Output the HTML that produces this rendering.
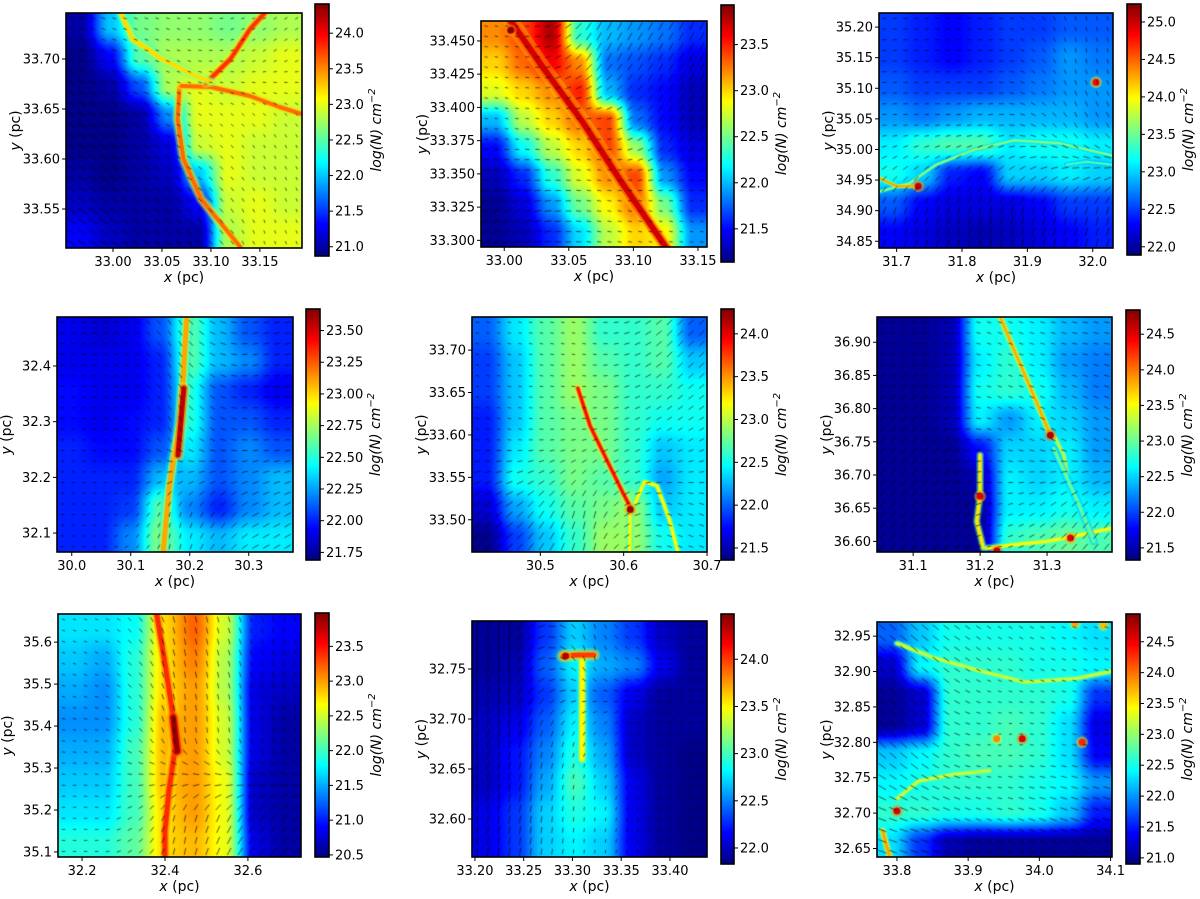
<!DOCTYPE html>
<html><head><meta charset="utf-8">
<style>
html,body{margin:0;padding:0;background:#fff;}
#wrap{position:relative;width:1200px;height:899px;overflow:hidden;font-family:"DejaVu Sans","Liberation Sans",sans-serif;}
canvas{position:absolute;}
svg{position:absolute;left:0;top:0;}
</style></head>
<body>
<div id="wrap">
<svg id="ov" width="1200" height="899"></svg>
</div>
<script>
// ---------- Panel 1 ----------
const p1_grid=[[21.0,22.0,22.6,22.7,22.7,22.6,22.7,22.8],[20.9,21.3,22.5,22.8,22.8,22.8,22.9,23.0],[20.9,21.0,21.6,22.8,23.0,22.9,23.0,23.0],[20.9,20.9,21.0,21.8,23.0,23.0,23.0,22.9],[20.9,20.9,21.0,21.2,22.9,23.0,22.9,22.9],[21.0,20.9,21.0,21.1,22.0,23.0,22.9,22.9],[21.1,21.0,21.0,21.0,21.3,22.9,23.0,22.9],[21.3,21.1,21.0,21.0,21.0,22.8,23.0,23.0]];
const p1_fil_x=[[33.068,33.066,33.072,33.09,33.115,33.13],[33.07,33.10,33.14,33.17,33.193],[33.095,33.12,33.14,33.155],[33.008,33.02,33.05,33.08,33.10]];
const p1_fil_y=[[33.672,33.64,33.60,33.56,33.53,33.512],[33.673,33.672,33.663,33.652,33.645],[33.676,33.70,33.73,33.746],[33.746,33.72,33.70,33.685,33.677]];
const p1_fil_v=[23.6,23.6,23.8,23.2];
const p1_dot_x=[],p1_dot_y=[],p1_dot_v=[];
const p1_xticks=[33.00,33.05,33.10,33.15], p1_yticks=[33.55,33.60,33.65,33.70], p1_cticks=[21.0,21.5,22.0,22.5,23.0,23.5,24.0];
const p1_ang=[[-20,-15,30],[-25,-30,-60],[-30,-30,-70]], p1_mag=[[0.4,0.3,0.3],[1,0.3,0.3],[1,0.7,0.3]];
// ---------- Panel 2 ----------
const p2_grid=[[23.2,23.4,23.8,22.3,22.0,21.9,21.8,21.6],[23.0,23.3,23.6,23.2,21.8,21.7,21.6,21.4],[22.8,23.0,23.2,23.5,22.0,21.6,21.5,21.3],[22.0,22.7,23.0,23.3,23.4,21.8,21.5,21.3],[21.5,22.2,22.7,23.0,23.4,22.6,21.6,21.4],[21.3,21.6,22.3,22.8,23.2,23.4,21.9,21.5],[21.2,21.4,21.9,22.5,22.9,23.3,22.5,21.6],[21.2,21.3,21.6,22.1,22.7,23.0,22.9,21.9]];
const p2_fil_x=[[33.005,33.03,33.06,33.09,33.125]];
const p2_fil_y=[[33.465,33.43,33.39,33.345,33.295]];
const p2_fil_v=[23.7];
const p2_dot_x=[33.005],p2_dot_y=[33.458],p2_dot_v=[23.9];
const p2_xticks=[33.00,33.05,33.10,33.15], p2_yticks=[33.300,33.325,33.350,33.375,33.400,33.425,33.450], p2_cticks=[21.5,22.0,22.5,23.0,23.5];
const p2_ang=[[-10,60,60],[-10,-10,60],[20,-10,-10]], p2_mag=[[0.3,1,0.9],[0.3,0.3,0.8],[0.9,0.4,0.3]];
// ---------- Panel 3 ----------
const p3_grid=[[22.5,22.4,22.3,22.4,22.5,22.5,22.6,22.6],[22.5,22.4,22.3,22.4,22.5,22.6,22.8,22.7],[22.6,22.5,22.5,22.5,22.6,22.7,22.8,22.8],[22.8,22.7,22.8,22.9,22.9,22.9,22.9,22.8],[23.1,23.3,23.4,23.4,23.1,23.2,23.2,23.1],[23.2,23.0,22.4,22.3,23.0,23.0,23.1,23.0],[22.6,22.3,22.2,22.2,22.2,22.3,22.5,22.5],[22.3,22.2,22.1,22.05,22.1,22.2,22.3,22.4]];
const p3_fil_x=[[31.67,31.72,31.76,31.82,31.88,31.95,32.03],[31.67,31.70,31.735],[31.96,31.99,32.03]];
const p3_fil_y=[[34.93,34.945,34.975,35.0,35.015,35.01,34.99],[34.955,34.94,34.94],[34.975,34.98,34.975]];
const p3_fil_v=[23.6,24.3,23.4];
const p3_dot_x=[32.005,31.733],p3_dot_y=[35.11,34.94],p3_dot_v=[24.8,25.0];
const p3_xticks=[31.7,31.8,31.9,32.0], p3_yticks=[34.85,34.90,34.95,35.00,35.05,35.10,35.15,35.20], p3_cticks=[22.0,22.5,23.0,23.5,24.0,24.5,25.0];
const p3_ang=[[0,0,-80],[5,10,-60],[70,75,75]], p3_mag=[[0.4,0.4,0.4],[0.4,0.5,0.6],[0.8,0.9,0.9]];
// ---------- Panel 4 ----------
const p4_grid=[[21.9,21.85,21.9,22.1,22.6,22.3,22.1,22.0],[21.9,21.9,21.9,22.0,22.6,22.3,22.2,22.0],[21.95,21.9,21.9,22.0,22.5,22.1,22.0,21.9],[21.95,21.9,21.95,22.0,22.5,22.1,22.1,22.0],[22.0,21.95,21.95,22.1,22.4,22.1,22.2,22.1],[22.0,22.0,22.0,22.3,22.3,22.1,22.2,22.3],[22.0,22.0,22.05,22.6,22.2,22.0,22.2,22.3],[22.0,22.0,22.2,22.7,22.4,22.3,22.4,22.4]];
const p4_fil_x=[[30.195,30.19,30.185,30.175,30.165,30.155],[30.19,30.185,30.18]];
const p4_fil_y=[[32.488,32.40,32.30,32.25,32.18,32.066],[32.36,32.30,32.24]];
const p4_fil_v=[23.1,23.55];
const p4_dot_x=[],p4_dot_y=[],p4_dot_v=[];
const p4_xticks=[30.0,30.1,30.2,30.3], p4_yticks=[32.1,32.2,32.3,32.4], p4_cticks=[21.75,22.00,22.25,22.50,22.75,23.00,23.25,23.50];
const p4_ang=[[0,-60,10],[0,-60,0],[0,80,30]], p4_mag=[[0.4,0.6,0.6],[0.3,0.6,0.5],[0.3,0.5,0.8]];
// ---------- Panel 5 ----------
const p5_grid=[[22.0,22.4,22.7,22.9,22.6,22.6,22.7,22.0],[21.9,22.3,22.7,22.9,22.7,22.6,22.7,22.3],[21.9,22.3,22.7,22.9,22.8,22.6,22.6,22.5],[21.8,22.3,22.7,22.8,22.8,22.6,22.5,22.5],[21.8,22.4,22.7,22.8,22.8,22.6,22.3,22.4],[21.8,22.5,22.6,22.8,22.7,22.6,22.2,22.4],[21.6,22.2,22.5,22.7,22.8,22.9,22.3,22.4],[21.4,21.9,22.3,22.6,22.9,22.9,22.5,22.4]];
const p5_fil_x=[[30.545,30.56,30.58,30.60,30.608],[30.608,30.607],[30.614,30.625,30.64,30.655,30.665]];
const p5_fil_y=[[33.655,33.61,33.57,33.53,33.515],[33.51,33.462],[33.52,33.545,33.54,33.50,33.462]];
const p5_fil_v=[23.9,23.2,23.2];
const p5_dot_x=[30.608],p5_dot_y=[33.512],p5_dot_v=[24.2];
const p5_xticks=[30.5,30.6,30.7], p5_yticks=[33.50,33.55,33.60,33.65,33.70], p5_cticks=[21.5,22.0,22.5,23.0,23.5,24.0];
const p5_ang=[[-10,-10,45],[-10,10,30],[40,80,-20]], p5_mag=[[0.3,0.3,0.8],[0.3,0.4,0.5],[1,0.8,0.5]];
// ---------- Panel 6 ----------
const p6_grid=[[21.4,21.4,21.5,22.7,22.7,22.6,22.4,22.3],[21.4,21.4,21.5,22.6,22.8,22.6,22.3,22.2],[21.4,21.4,21.5,22.7,22.8,22.7,22.4,22.2],[21.4,21.4,21.5,22.6,22.3,22.6,22.5,22.3],[21.4,21.4,21.4,21.8,22.5,22.5,22.6,22.3],[21.4,21.4,21.4,21.5,22.6,22.5,22.6,22.4],[21.4,21.4,21.4,21.4,22.6,22.6,22.7,22.6],[21.4,21.4,21.4,21.4,22.8,22.9,23.0,22.9]];
const p6_fil_x=[[31.23,31.25,31.28,31.305],[31.31,31.325,31.33],[31.20,31.20,31.195,31.205],[31.21,31.25,31.30,31.35,31.397],[31.31,31.35,31.37]];
const p6_fil_y=[[36.938,36.89,36.82,36.76],[36.76,36.73,36.70],[36.73,36.67,36.63,36.59],[36.59,36.595,36.60,36.61,36.62],[36.74,36.65,36.60]];
const p6_fil_v=[23.8,23.3,23.6,23.5,23.0];
const p6_dot_x=[31.305,31.20,31.225,31.335],p6_dot_y=[36.76,36.668,36.586,36.605],p6_dot_v=[24.7,24.5,24.6,24.5];
const p6_xticks=[31.1,31.2,31.3], p6_yticks=[36.60,36.65,36.70,36.75,36.80,36.85,36.90], p6_cticks=[21.5,22.0,22.5,23.0,23.5,24.0,24.5];
const p6_ang=[[10,-20,-10],[50,-20,-30],[55,10,50]], p6_mag=[[0.4,0.4,0.5],[1,0.4,0.6],[1,0.4,0.8]];
// ---------- Panel 7 ----------
const p7_grid=[[21.7,21.7,21.8,22.8,23.2,22.5,21.0,20.9],[21.6,21.5,21.9,22.8,23.1,22.4,20.9,20.8],[21.5,21.4,21.9,22.8,23.0,22.4,20.8,20.7],[21.4,21.4,21.9,22.9,23.0,22.5,20.8,20.6],[21.5,21.5,22.0,22.9,23.0,22.5,20.8,20.6],[21.6,21.6,22.0,22.9,23.0,22.6,20.7,20.6],[21.7,21.7,22.0,22.8,23.0,22.6,20.7,20.6],[21.9,21.9,22.1,22.8,22.9,22.6,20.8,20.6]];
const p7_fil_x=[[32.38,32.40,32.42,32.425,32.41,32.40,32.40],[32.42,32.43]];
const p7_fil_y=[[35.667,35.55,35.42,35.35,35.25,35.15,35.088],[35.42,35.34]];
const p7_fil_v=[23.4,23.9];
const p7_dot_x=[],p7_dot_y=[],p7_dot_v=[];
const p7_xticks=[32.2,32.4,32.6], p7_yticks=[35.1,35.2,35.3,35.4,35.5,35.6], p7_cticks=[20.5,21.0,21.5,22.0,22.5,23.0,23.5];
const p7_ang=[[-20,-80,-70],[-10,-85,-80],[0,80,50]], p7_mag=[[0.3,0.7,0.5],[0.3,0.6,0.4],[0.3,0.7,1]];
// ---------- Panel 8 ----------
const p8_grid=[[21.9,21.9,22.3,22.7,22.5,22.3,22.0,21.9],[21.9,21.95,22.4,22.8,22.6,22.5,22.1,21.9],[21.95,22.0,22.3,22.7,22.4,22.1,21.9,21.9],[22.0,22.1,22.4,22.8,22.5,22.0,21.9,21.9],[22.0,22.2,22.5,22.9,22.6,22.0,21.9,21.85],[22.0,22.2,22.6,23.0,22.7,22.1,21.9,21.85],[22.1,22.3,22.7,22.9,22.8,22.1,21.9,21.85],[22.1,22.3,22.7,22.8,22.7,22.1,21.9,21.85]];
const p8_fil_x=[[33.31,33.31,33.31],[33.29,33.305,33.322]];
const p8_fil_y=[[32.76,32.70,32.66],[32.763,32.764,32.764]];
const p8_fil_v=[23.5,24.0];
const p8_dot_x=[33.293],p8_dot_y=[32.763],p8_dot_v=[24.35];
const p8_xticks=[33.20,33.25,33.30,33.35,33.40], p8_yticks=[32.60,32.65,32.70,32.75], p8_cticks=[22.0,22.5,23.0,23.5,24.0];
const p8_ang=[[80,-80,10],[80,70,30],[80,85,60]], p8_mag=[[1,0.5,0.3],[0.9,0.3,0.3],[0.9,0.3,0.3]];
// ---------- Panel 9 ----------
const p9_grid=[[21.8,22.2,22.5,22.5,22.5,22.5,22.4,22.3],[21.2,22.4,22.6,22.6,22.6,22.5,22.5,22.4],[21.0,21.2,22.6,22.6,22.6,22.6,22.5,21.6],[21.0,21.2,22.6,22.6,22.7,22.6,22.3,21.3],[22.2,22.4,22.6,22.7,22.7,22.6,22.3,21.4],[22.4,22.5,22.6,22.6,22.6,22.5,22.4,22.0],[22.6,22.6,22.5,22.5,22.6,22.5,22.2,21.5],[22.3,21.6,21.1,21.0,21.0,21.0,21.0,21.0]];
const p9_fil_x=[[33.80,33.85,33.92,33.98,34.05,34.10],[33.80,33.83,33.88,33.93],[33.78,33.785,33.79]];
const p9_fil_y=[[32.94,32.92,32.90,32.885,32.89,32.90],[32.72,32.745,32.755,32.76],[32.675,32.655,32.638]];
const p9_fil_v=[23.2,23.2,23.8];
const p9_dot_x=[33.976,34.06,33.94,33.80,34.05,34.09],p9_dot_y=[32.805,32.80,32.805,32.703,32.968,32.965],p9_dot_v=[24.6,24.3,23.9,24.6,23.8,23.7];
const p9_xticks=[33.8,33.9,34.0,34.1], p9_yticks=[32.65,32.70,32.75,32.80,32.85,32.90,32.95], p9_cticks=[21.0,21.5,22.0,22.5,23.0,23.5,24.0,24.5];
const p9_ang=[[-40,-30,-20],[-45,0,-10],[-20,-20,-20]], p9_mag=[[1,0.4,0.4],[1,0.2,0.4],[0.9,0.5,0.9]];

const panels=[
 {id:1,ax:[66,13,302,248],xl:[32.952,33.193],yl:[33.511,33.746],cb:[315,4,329,256],cl:[20.87,24.41],xd:2,yd:2,cd:1,grid:p1_grid,fx:p1_fil_x,fy:p1_fil_y,fv:p1_fil_v,dx:p1_dot_x,dy:p1_dot_y,dv:p1_dot_v,xt:p1_xticks,yt:p1_yticks,ct:p1_cticks,ang:p1_ang,mag:p1_mag,fw:4},
 {id:2,ax:[481,21,707,247],xl:[32.982,33.157],yl:[33.295,33.465],cb:[721,5,734,262],cl:[21.14,23.93],xd:2,yd:3,cd:1,grid:p2_grid,fx:p2_fil_x,fy:p2_fil_y,fv:p2_fil_v,dx:p2_dot_x,dy:p2_dot_y,dv:p2_dot_v,xt:p2_xticks,yt:p2_yticks,ct:p2_cticks,ang:p2_ang,mag:p2_mag,fw:6},
 {id:3,ax:[879,13,1113,248],xl:[31.673,32.031],yl:[34.839,35.223],cb:[1127,4,1141,255],cl:[21.89,25.24],xd:1,yd:2,cd:1,grid:p3_grid,fx:p3_fil_x,fy:p3_fil_y,fv:p3_fil_v,dx:p3_dot_x,dy:p3_dot_y,dv:p3_dot_v,xt:p3_xticks,yt:p3_yticks,ct:p3_cticks,ang:p3_ang,mag:p3_mag,fw:2},
 {id:4,ax:[57,317,293,552],xl:[29.975,30.375],yl:[32.066,32.488],cb:[306,309,320,560],cl:[21.69,23.67],xd:1,yd:1,cd:2,grid:p4_grid,fx:p4_fil_x,fy:p4_fil_y,fv:p4_fil_v,dx:p4_dot_x,dy:p4_dot_y,dv:p4_dot_v,xt:p4_xticks,yt:p4_yticks,ct:p4_cticks,ang:p4_ang,mag:p4_mag,fw:5},
 {id:5,ax:[472,317,707,552],xl:[30.418,30.700],yl:[33.462,33.739],cb:[721,309,734,560],cl:[21.36,24.29],xd:1,yd:2,cd:1,grid:p5_grid,fx:p5_fil_x,fy:p5_fil_y,fv:p5_fil_v,dx:p5_dot_x,dy:p5_dot_y,dv:p5_dot_v,xt:p5_xticks,yt:p5_yticks,ct:p5_cticks,ang:p5_ang,mag:p5_mag,fw:3},
 {id:6,ax:[877,317,1112,552],xl:[31.046,31.397],yl:[36.584,36.938],cb:[1126,310,1140,560],cl:[21.33,24.84],xd:1,yd:2,cd:1,grid:p6_grid,fx:p6_fil_x,fy:p6_fil_y,fv:p6_fil_v,dx:p6_dot_x,dy:p6_dot_y,dv:p6_dot_v,xt:p6_xticks,yt:p6_yticks,ct:p6_cticks,ang:p6_ang,mag:p6_mag,fw:3},
 {id:7,ax:[58,614,301,857],xl:[32.142,32.728],yl:[35.088,35.667],cb:[315,613,329,857],cl:[20.47,23.98],xd:1,yd:1,cd:1,grid:p7_grid,fx:p7_fil_x,fy:p7_fil_y,fv:p7_fil_v,dx:p7_dot_x,dy:p7_dot_y,dv:p7_dot_v,xt:p7_xticks,yt:p7_yticks,ct:p7_cticks,ang:p7_ang,mag:p7_mag,fw:5},
 {id:8,ax:[472,621,707,857],xl:[33.197,33.438],yl:[32.562,32.798],cb:[721,614,734,864],cl:[21.83,24.48],xd:2,yd:2,cd:1,grid:p8_grid,fx:p8_fil_x,fy:p8_fil_y,fv:p8_fil_v,dx:p8_dot_x,dy:p8_dot_y,dv:p8_dot_v,xt:p8_xticks,yt:p8_yticks,ct:p8_cticks,ang:p8_ang,mag:p8_mag,fw:5},
 {id:9,ax:[877,622,1112,857],xl:[33.772,34.102],yl:[32.638,32.970],cb:[1126,614,1140,864],cl:[20.90,24.95],xd:1,yd:2,cd:1,grid:p9_grid,fx:p9_fil_x,fy:p9_fil_y,fv:p9_fil_v,dx:p9_dot_x,dy:p9_dot_y,dv:p9_dot_v,xt:p9_xticks,yt:p9_yticks,ct:p9_cticks,ang:p9_ang,mag:p9_mag,fw:3}
];

function cl01(v){return Math.max(0,Math.min(1,v));}
function jet(t){t=cl01(t);return [cl01(1.5-Math.abs(4*t-3)),cl01(1.5-Math.abs(4*t-2)),cl01(1.5-Math.abs(4*t-1))].map(c=>Math.round(c*255));}
function rgb(a,al){return al===undefined?`rgb(${a[0]},${a[1]},${a[2]})`:`rgba(${a[0]},${a[1]},${a[2]},${al})`;}
const wrap=document.getElementById('wrap'), ov=document.getElementById('ov');
const NS='http://www.w3.org/2000/svg';
function sv(tag,attrs,txt){const e=document.createElementNS(NS,tag);for(const k in attrs)e.setAttribute(k,attrs[k]);if(txt!==undefined)e.textContent=txt;return e;}
function ss(f){return f*f*(3-2*f);}
function interp(grid,u,v,sharp){
 const R=grid.length,C=grid[0].length;
 let gx=u*C-0.5, gy=v*R-0.5; gx=Math.max(0,Math.min(C-1,gx)); gy=Math.max(0,Math.min(R-1,gy));
 const x0=Math.floor(gx),y0=Math.floor(gy),x1=Math.min(C-1,x0+1),y1=Math.min(R-1,y0+1);
 let fx=gx-x0,fy=gy-y0; if(sharp){fx=ss(fx);fy=ss(fy);}
 return grid[y0][x0]*(1-fx)*(1-fy)+grid[y0][x1]*fx*(1-fy)+grid[y1][x0]*(1-fx)*fy+grid[y1][x1]*fx*fy;
}

panels.forEach(p=>{
 const [L,T,Rr,B]=p.ax, W=Rr-L, H=B-T;
 const sx=x=>(x-p.xl[0])/(p.xl[1]-p.xl[0])*W;
 const sy=y=>(p.yl[1]-y)/(p.yl[1]-p.yl[0])*H;
 const norm=v=>(v-p.cl[0])/(p.cl[1]-p.cl[0]);
 const g=sv('g',{});   ov.appendChild(g);
 const cv=document.createElement('canvas'); cv.width=W; cv.height=H; cv.style.left=L+'px'; cv.style.top=T+'px';
 
 
 wrap.insertBefore(cv,ov);
 const ctx=cv.getContext('2d'); const img=ctx.createImageData(W,H);
 for(let j=0;j<H;j++)for(let i=0;i<W;i++){const c=jet(norm(interp(p.grid,(i+0.5)/W,(j+0.5)/H,true)));const k=(j*W+i)*4;img.data[k]=c[0];img.data[k+1]=c[1];img.data[k+2]=c[2];img.data[k+3]=255;}
 ctx.putImageData(img,0,0);
 ctx.lineCap='round';ctx.lineJoin='round';
 p.fx.forEach((xs,fi)=>{
  const v=p.fv[fi];
  [[2.6,-0.7,0.35],[1.7,-0.35,0.7],[1,0,1]].forEach(([wm,dv,al])=>{
   ctx.beginPath(); xs.forEach((x,k)=>{const X=sx(x),Y=sy(p.fy[fi][k]); k?ctx.lineTo(X,Y):ctx.moveTo(X,Y);});
   ctx.strokeStyle=rgb(jet(norm(v+dv)),al); ctx.lineWidth=p.fw*wm; ctx.stroke();
  });
 });
 p.dx.forEach((x,k)=>{const X=sx(x),Y=sy(p.dy[k]),v=p.dv[k];
  [[6,-0.7,0.5],[3.5,0,1]].forEach(([r,dv,al])=>{ctx.beginPath();ctx.arc(X,Y,r,0,7);ctx.fillStyle=rgb(jet(norm(v+dv)),al);ctx.fill();});});
 ctx.strokeStyle='rgba(0,0,0,0.7)';ctx.lineWidth=0.9;ctx.lineCap='butt';
 const n=22;
 for(let a=0;a<n;a++)for(let b=0;b<n;b++){
  const u=(a+0.5)/n,v=(b+0.5)/n;
  const ang=interp(p.ang,u,v)*Math.PI/180, m=interp(p.mag,u,v)*8+1;
  const X=u*W,Y=v*H,dx=Math.cos(ang)*m/2,dy=-Math.sin(ang)*m/2;
  ctx.beginPath();ctx.moveTo(X-dx,Y-dy);ctx.lineTo(X+dx,Y+dy);ctx.stroke();
 }
 const fr=sv('rect',{x:L,y:T,width:W,height:H,fill:'none',stroke:'#000','stroke-width':1.6});
   g.appendChild(fr);
 p.xt.forEach(t=>{const X=L+sx(t);
  const tk=sv('line',{x1:X,y1:B,x2:X,y2:B+4,stroke:'#000','stroke-width':1});   g.appendChild(tk);
  const tl=sv('text',{x:X,y:B+18,'font-size':13,'text-anchor':'middle',fill:'#000'},t.toFixed(p.xd));   g.appendChild(tl);});
 p.yt.forEach(t=>{const Y=T+sy(t);
  const tk=sv('line',{x1:L-4,y1:Y,x2:L,y2:Y,stroke:'#000','stroke-width':1});   g.appendChild(tk);
  const tl=sv('text',{x:L-6,y:Y+4.5,'font-size':13,'text-anchor':'end',fill:'#000'},t.toFixed(p.yd));   g.appendChild(tl);});
 const xlab=sv('text',{x:(L+Rr)/2,y:B+34,'font-size':14,'text-anchor':'middle'}); xlab.innerHTML='<tspan font-style="italic">x</tspan> (pc)';
   g.appendChild(xlab);
 const ylx=L-(p.yd==3?54:46);
 const ylab=sv('text',{x:ylx,y:(T+B)/2,'font-size':14,'text-anchor':'middle',transform:`rotate(-90 ${ylx} ${(T+B)/2})`}); ylab.innerHTML='<tspan font-style="italic">y</tspan> (pc)';
   g.appendChild(ylab);
 const [cL,cT,cR,cB]=p.cb, cW=cR-cL, cH=cB-cT;
 const cc=document.createElement('canvas'); cc.width=cW; cc.height=cH; cc.style.left=cL+'px'; cc.style.top=cT+'px';
 
 
 wrap.insertBefore(cc,ov);
 const c2=cc.getContext('2d'); for(let j=0;j<cH;j++){c2.fillStyle=rgb(jet(1-(j+0.5)/cH));c2.fillRect(0,j,cW,1);}
 const cf=sv('rect',{x:cL,y:cT,width:cW,height:cH,fill:'none',stroke:'#000','stroke-width':1.6});   g.appendChild(cf);
 const cy=v=>cB-(v-p.cl[0])/(p.cl[1]-p.cl[0])*cH;
 p.ct.forEach(t=>{const Y=cy(t);
  const tk=sv('line',{x1:cR,y1:Y,x2:cR+4,y2:Y,stroke:'#000','stroke-width':1});   g.appendChild(tk);
  const tl=sv('text',{x:cR+6,y:Y+4.5,'font-size':13,fill:'#000'},t.toFixed(p.cd));   g.appendChild(tl);});
 const clx=cR+(p.cd==2?60:52), cly=(cT+cB)/2;
 const clab=sv('text',{x:clx,y:cly,'font-size':14,'text-anchor':'middle','font-style':'italic',transform:`rotate(-90 ${clx} ${cly})`});
 clab.innerHTML='log(N) cm<tspan dy="-6" font-size="10">−2</tspan>';
   g.appendChild(clab);
});
</script>
</body></html>
